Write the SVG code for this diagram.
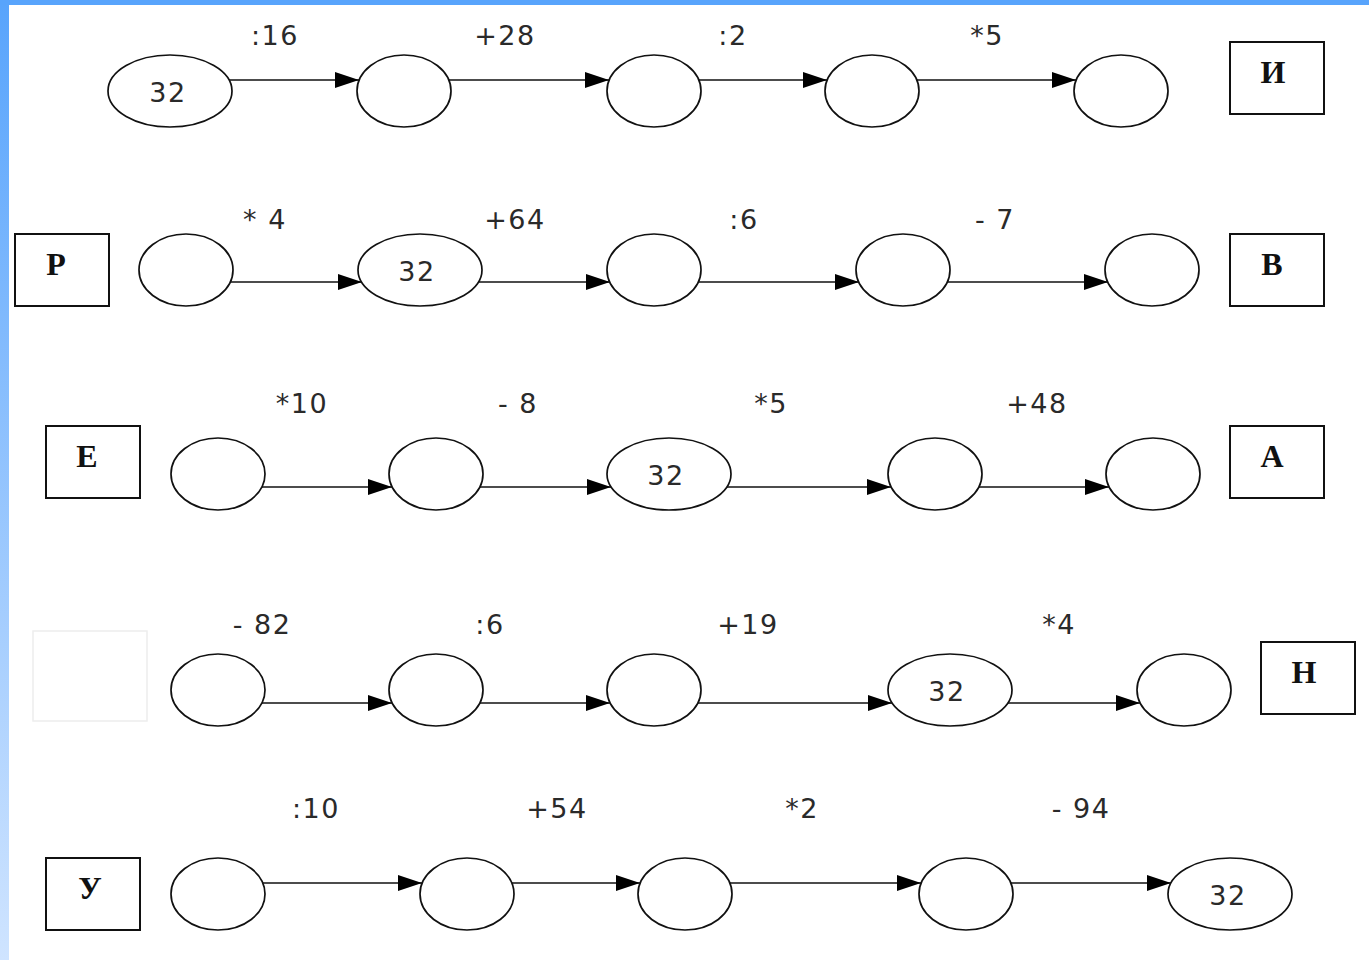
<svg xmlns="http://www.w3.org/2000/svg" width="1369" height="960" viewBox="0 0 1369 960">
<defs>
<linearGradient id="side" x1="0" y1="0" x2="0" y2="1">
<stop offset="0" stop-color="#58a4fc"/>
<stop offset="1" stop-color="#cfe4ff"/>
</linearGradient>
<marker id="ah" markerUnits="userSpaceOnUse" markerWidth="26" markerHeight="18" refX="24" refY="8" orient="auto">
<path d="M0,0 L24,8 L0,16 z" fill="#000"/>
</marker>
<style>
.n{fill:#fff;stroke:#111;stroke-width:1.7}
.b{fill:#fff;stroke:#111;stroke-width:2}
.c{stroke:#111;stroke-width:1.7;fill:none;marker-end:url(#ah)}
.l{font-family:"DejaVu Sans",sans-serif;font-size:27px;fill:#2a2a2a;text-anchor:middle;letter-spacing:1.5px}
.v{font-family:"DejaVu Sans",sans-serif;font-size:27px;fill:#2a2a2a;text-anchor:middle;letter-spacing:1.5px}
.t{font-family:"Liberation Serif",serif;font-weight:bold;font-size:32px;fill:#111;text-anchor:middle}
</style>
</defs>
<rect width="1369" height="960" fill="#fff"/>
<rect x="0" y="0" width="9" height="960" fill="url(#side)"/>
<rect x="0" y="0" width="1369" height="5" fill="#58a4fc"/>
<rect x="33" y="631" width="114" height="90" fill="none" stroke="#ededed" stroke-width="1.5"/>

<g id="connectors">
<line class="c" x1="229" y1="80" x2="359" y2="80"/>
<line class="c" x1="449" y1="80" x2="609" y2="80"/>
<line class="c" x1="699" y1="80" x2="827" y2="80"/>
<line class="c" x1="917" y1="80" x2="1076" y2="80"/>

<line class="c" x1="230" y1="282" x2="362" y2="282"/>
<line class="c" x1="478" y1="282" x2="610" y2="282"/>
<line class="c" x1="698" y1="282" x2="859" y2="282"/>
<line class="c" x1="947" y1="282" x2="1108" y2="282"/>

<line class="c" x1="262" y1="487" x2="392" y2="487"/>
<line class="c" x1="480" y1="487" x2="611" y2="487"/>
<line class="c" x1="727" y1="487" x2="891" y2="487"/>
<line class="c" x1="979" y1="487" x2="1109" y2="487"/>

<line class="c" x1="262" y1="703" x2="392" y2="703"/>
<line class="c" x1="480" y1="703" x2="610" y2="703"/>
<line class="c" x1="698" y1="703" x2="892" y2="703"/>
<line class="c" x1="1008" y1="703" x2="1140" y2="703"/>

<line class="c" x1="262" y1="883" x2="422" y2="883"/>
<line class="c" x1="512" y1="883" x2="640" y2="883"/>
<line class="c" x1="730" y1="883" x2="921" y2="883"/>
<line class="c" x1="1011" y1="883" x2="1171" y2="883"/>
</g>

<g id="labels">
<text class="l" x="275" y="45">:16</text>
<text class="l" x="505" y="45">+28</text>
<text class="l" x="733" y="45">:2</text>
<text class="l" x="987" y="45">*5</text>

<text class="l" x="265" y="229">* 4</text>
<text class="l" x="515" y="229">+64</text>
<text class="l" x="744" y="229">:6</text>
<text class="l" x="995" y="229">- 7</text>

<text class="l" x="302" y="413">*10</text>
<text class="l" x="518" y="413">- 8</text>
<text class="l" x="771" y="413">*5</text>
<text class="l" x="1037" y="413">+48</text>

<text class="l" x="262" y="634">- 82</text>
<text class="l" x="490" y="634">:6</text>
<text class="l" x="748" y="634">+19</text>
<text class="l" x="1059" y="634">*4</text>

<text class="l" x="316" y="818">:10</text>
<text class="l" x="557" y="818">+54</text>
<text class="l" x="802" y="818">*2</text>
<text class="l" x="1081" y="818">- 94</text>
</g>

<g id="r1n1"><ellipse class="n" cx="170" cy="91" rx="62" ry="36"/><text class="v" x="168" y="102">32</text></g>
<g id="r1n2"><ellipse class="n" cx="404" cy="91" rx="47" ry="36"/></g>
<g id="r1n3"><ellipse class="n" cx="654" cy="91" rx="47" ry="36"/></g>
<g id="r1n4"><ellipse class="n" cx="872" cy="91" rx="47" ry="36"/></g>
<g id="r1n5"><ellipse class="n" cx="1121" cy="91" rx="47" ry="36"/></g>
<g id="boxI"><rect class="b" x="1230" y="42" width="94" height="72"/><text class="t" x="1273" y="83">И</text></g>

<g id="boxR"><rect class="b" x="15" y="234" width="94" height="72"/><text class="t" x="56" y="275">Р</text></g>
<g id="r2n1"><ellipse class="n" cx="186" cy="270" rx="47" ry="36"/></g>
<g id="r2n2"><ellipse class="n" cx="420" cy="270" rx="62" ry="36"/><text class="v" x="417" y="281">32</text></g>
<g id="r2n3"><ellipse class="n" cx="654" cy="270" rx="47" ry="36"/></g>
<g id="r2n4"><ellipse class="n" cx="903" cy="270" rx="47" ry="36"/></g>
<g id="r2n5"><ellipse class="n" cx="1152" cy="270" rx="47" ry="36"/></g>
<g id="boxV"><rect class="b" x="1230" y="234" width="94" height="72"/><text class="t" x="1272" y="275">В</text></g>

<g id="boxE"><rect class="b" x="46" y="426" width="94" height="72"/><text class="t" x="87" y="467">Е</text></g>
<g id="r3n1"><ellipse class="n" cx="218" cy="474" rx="47" ry="36"/></g>
<g id="r3n2"><ellipse class="n" cx="436" cy="474" rx="47" ry="36"/></g>
<g id="r3n3"><ellipse class="n" cx="669" cy="474" rx="62" ry="36"/><text class="v" x="666" y="485">32</text></g>
<g id="r3n4"><ellipse class="n" cx="935" cy="474" rx="47" ry="36"/></g>
<g id="r3n5"><ellipse class="n" cx="1153" cy="474" rx="47" ry="36"/></g>
<g id="boxA"><rect class="b" x="1230" y="426" width="94" height="72"/><text class="t" x="1272" y="467">А</text></g>

<g id="r4n1"><ellipse class="n" cx="218" cy="690" rx="47" ry="36"/></g>
<g id="r4n2"><ellipse class="n" cx="436" cy="690" rx="47" ry="36"/></g>
<g id="r4n3"><ellipse class="n" cx="654" cy="690" rx="47" ry="36"/></g>
<g id="r4n4"><ellipse class="n" cx="950" cy="690" rx="62" ry="36"/><text class="v" x="947" y="701">32</text></g>
<g id="r4n5"><ellipse class="n" cx="1184" cy="690" rx="47" ry="36"/></g>
<g id="boxN"><rect class="b" x="1261" y="642" width="94" height="72"/><text class="t" x="1304" y="683">Н</text></g>

<g id="boxU"><rect class="b" x="46" y="858" width="94" height="72"/><text class="t" x="90" y="899">У</text></g>
<g id="r5n1"><ellipse class="n" cx="218" cy="894" rx="47" ry="36"/></g>
<g id="r5n2"><ellipse class="n" cx="467" cy="894" rx="47" ry="36"/></g>
<g id="r5n3"><ellipse class="n" cx="685" cy="894" rx="47" ry="36"/></g>
<g id="r5n4"><ellipse class="n" cx="966" cy="894" rx="47" ry="36"/></g>
<g id="r5n5"><ellipse class="n" cx="1230" cy="894" rx="62" ry="36"/><text class="v" x="1228" y="905">32</text></g>
</svg>
